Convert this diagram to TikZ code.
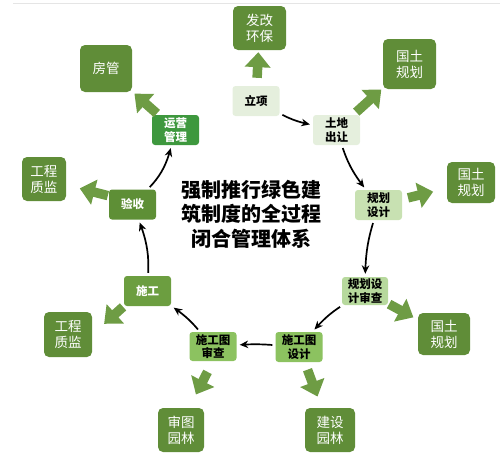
\documentclass[tikz,border=0pt]{standalone}
\usepackage{fontspec}
\newfontfamily\cjk{Noto Sans CJK SC}
\usetikzlibrary{arrows.meta,bending}

\definecolor{outg}{RGB}{96,141,56}
\definecolor{arrg}{RGB}{110,156,68}
\definecolor{paleg}{RGB}{229,239,221}
\definecolor{lightg}{RGB}{200,225,178}
\definecolor{midg}{RGB}{183,217,157}
\definecolor{brightg}{RGB}{140,194,96}
\definecolor{darkg}{RGB}{108,158,64}
\definecolor{deepg}{RGB}{94,143,54}
\definecolor{runag}{RGB}{62,152,62}

\tikzset{
  outbox/.style={rectangle, rounded corners=5pt, fill=outg, text=white,
    minimum width=50pt, minimum height=44pt, inner sep=1pt, align=center,
    font=\cjk\fontsize{13.5}{16}\selectfont},
  inbox/.style={rectangle, rounded corners=3pt, minimum width=47pt,
    minimum height=30pt, inner sep=1pt, align=center,
    font=\cjk\bfseries\fontsize{11.5}{13.5}\selectfont},
  garrow/.style={draw=arrg, line width=9.5pt, -{Triangle[width=25pt,length=15pt]}},
  karrow/.style={line width=1.7pt, -{Stealth[length=8.5pt,width=7.5pt]},
    shorten <=3pt, shorten >=3pt},
}

\begin{document}
\begin{tikzpicture}[x=1pt,y=-1pt]

  \useasboundingbox (0,0) rectangle (504,463);
  \draw[black!10, line width=0.6pt] (13,3) -- (500,3);

  %steps on the loop
  \node[inbox, fill=paleg] (lx) at (256,101) {立项};
  \node[inbox, fill=paleg] (td) at (336.5,130) {土地\\出让};
  \node[inbox, fill=lightg] (gh) at (378.5,205) {规划\\设计};
  \node[inbox, fill=midg, minimum width=46pt, minimum height=28pt] (sc) at (365,291) {规划设\\计审查};
  \node[inbox, fill=brightg] (sd) at (299,347) {施工图\\设计};
  \node[inbox, fill=brightg, minimum height=29pt] (ss) at (213,346.5) {施工图\\审查};
  \node[inbox, fill=darkg, text=white] (sg) at (147.5,291) {施工};
  \node[inbox, fill=deepg, text=white] (ys) at (132.5,204.5) {验收};
  \node[inbox, fill=runag, text=white] (yy) at (175.5,130) {运营\\管理};

  %offices
  \node[outbox, minimum width=53pt] (fg) at (259.5,28) {发改\\环保};
  \node[outbox, minimum width=53pt, minimum height=50pt] (gt1) at (409.5,64) {国土\\规划};
  \node[outbox, minimum width=48pt, minimum height=41pt] (gt2) at (471,182.5) {国土\\规划};
  \node[outbox, minimum width=52pt, minimum height=42pt] (gt3) at (444,334) {国土\\规划};
  \node[outbox] (jy) at (330,430) {建设\\园林};
  \node[outbox, minimum width=46pt] (st) at (181,430) {审图\\园林};
  \node[outbox, minimum width=48pt, minimum height=45pt] (gz2) at (68,334.5) {工程\\质监};
  \node[outbox, minimum width=44pt] (gz1) at (44,179) {工程\\质监};
  \node[outbox, minimum width=52pt, minimum height=47pt] (fg2) at (106,68.5) {房管};

  %title
  \node[font=\cjk\bfseries\fontsize{20}{24.5}\selectfont, align=center] (title) at (251,214)
    {强制推行绿色建\\筑制度的全过程\\闭合管理体系};

  %loop
  \draw[karrow] (lx) to[bend right=8] (td);
  \draw[karrow] (td) to[bend right=10] (gh);
  \draw[karrow] (gh) to[bend right=8] (sc);
  \draw[karrow] (sc) to[bend right=8] (sd);
  \draw[karrow] (sd) to[bend right=4] (ss);
  \draw[karrow] (ss) to[bend right=8] (sg);
  \draw[karrow] (sg) to[bend right=12] (ys);
  \draw[karrow] (ys) to[bend right=15] (yy);

  %to offices
  \draw[garrow, shorten <=8pt, shorten >=2pt] (lx) -- (fg);
  \draw[garrow, shorten <=4pt, shorten >=2pt] (td) -- (gt1);
  \draw[garrow, shorten <=6pt, shorten >=14pt] (gh) -- (gt2);
  \draw[garrow, shorten <=1pt, shorten >=5pt] (sc) -- (gt3);
  \draw[garrow, shorten <=8pt, shorten >=12pt] (sd) -- (jy);
  \draw[garrow, shorten <=12pt, shorten >=15pt] (ss.south) -- (st.70);
  \draw[garrow, shorten <=1pt, shorten >=16pt] (sg.south west) -- (gz2.east);
  \draw[garrow, shorten <=1pt, shorten >=14pt] (ys.160) -- (gz1.-15);
  \draw[garrow, shorten <=2pt, shorten >=3pt] (yy) -- (fg2);

\end{tikzpicture}
\end{document}
